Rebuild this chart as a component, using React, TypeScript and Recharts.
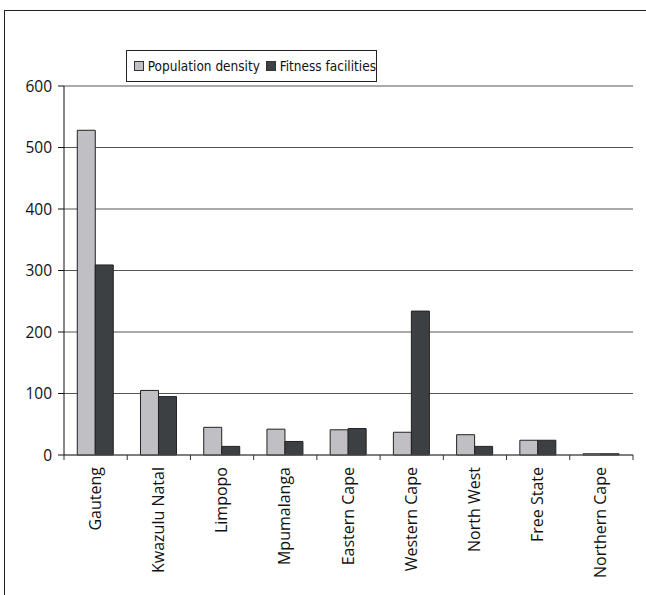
import React from 'react';
import { BarChart, Bar, XAxis, YAxis, CartesianGrid } from 'recharts';

// Provinces and the two series
const provinces = [
  'Gauteng',
  'Kwazulu Natal',
  'Limpopo',
  'Mpumalanga',
  'Eastern Cape',
  'Western Cape',
  'North West',
  'Free State',
  'Northern Cape',
];
const populationDensity = [528, 105, 45, 42, 41, 37, 33, 24, 2];
const fitnessFacilities = [309, 95, 14, 22, 43, 234, 14, 24, 2];
const yTicks = [0, 100, 200, 300, 400, 500, 600];

const data = provinces.map((name, i) => ({
  name,
  population: populationDensity[i],
  fitness: fitnessFacilities[i],
}));

const W = 646;
const H = 595;
const M = { top: 86, right: 13, left: 0, bottom: 0 };
const Y_W = 64;
const X_H = 140;
const step = (W - Y_W - M.right) / provinces.length;

const POP_FILL = '#c0c0c4';
const FIT_FILL = '#3d4043';
const tickFont = '"Open Sans", sans-serif';

const XTick = (props: any) => {
  const { x, y, payload, index } = props;
  const left = x - step / 2;
  return (
    <g>
      <line x1={left} y1={y} x2={left} y2={y + 5} stroke="#333" />
      {index === provinces.length - 1 && (
        <line x1={x + step / 2} y1={y} x2={x + step / 2} y2={y + 5} stroke="#333" />
      )}
      <text
        x={0}
        y={0}
        transform={`translate(${x + 5},${y + 12}) rotate(-90)`}
        textAnchor="end"
        fontSize={16}
        fontFamily={tickFont}
        fill="#111"
      >
        {payload.value}
      </text>
    </g>
  );
};

// legend drawn as a box over the chart so it doesn't push the plot down
const LegendBox = () => (
  <div
    style={{
      position: 'absolute',
      left: 126,
      top: 50,
      display: 'flex',
      alignItems: 'center',
      boxSizing: 'border-box',
      width: 251,
      height: 32,
      border: '1px solid #222',
      background: '#fff',
      padding: '0 0 0 7px',
      fontFamily: '"DejaVu Sans Condensed", "DejaVu Sans", sans-serif',
      fontSize: 13.5,
      color: '#111',
      whiteSpace: 'nowrap',
    }}
  >
    <span style={{ width: 8, height: 8, background: POP_FILL, border: '1px solid #333', marginRight: 4 }} />
    <span style={{ marginRight: 6 }}>Population density</span>
    <span style={{ width: 8, height: 8, background: FIT_FILL, border: '1px solid #333', marginRight: 4 }} />
    <span>Fitness facilities</span>
  </div>
);

export default function App() {
  return (
    <div style={{ position: 'absolute', left: 0, top: 0, width: W, height: H, overflow: 'hidden', background: '#fff' }}>
      <div
        style={{
          position: 'absolute',
          left: 4,
          top: 10,
          width: 700,
          height: 700,
          borderLeft: '1px solid #222',
          borderTop: '1px solid #222',
        }}
      />
      <div style={{ position: 'absolute', left: 0, top: 0 }}>
        <BarChart width={W} height={H} data={data} margin={M} barCategoryGap="21%" barGap={0}>
          <CartesianGrid horizontal vertical={false} stroke="#555" />
          <XAxis
            dataKey="name"
            height={X_H}
            interval={0}
            tickSize={0}
            tickMargin={0}
            tickLine={false}
            axisLine={{ stroke: '#555' }}
            tick={<XTick />}
          />
          <YAxis
            width={Y_W}
            domain={[0, 600]}
            ticks={yTicks}
            interval={0}
            tickSize={6}
            tickMargin={6}
            axisLine={{ stroke: '#111' }}
            tickLine={{ stroke: '#111' }}
            tick={{ fontSize: 15.5, fontFamily: tickFont, fill: '#111' }}
          />
          <Bar dataKey="population" name="Population density" fill={POP_FILL} stroke="#222" strokeWidth={1} isAnimationActive={false} />
          <Bar dataKey="fitness" name="Fitness facilities" fill={FIT_FILL} stroke="#222" strokeWidth={1} isAnimationActive={false} />
        </BarChart>
      </div>
      <LegendBox />
    </div>
  );
}
